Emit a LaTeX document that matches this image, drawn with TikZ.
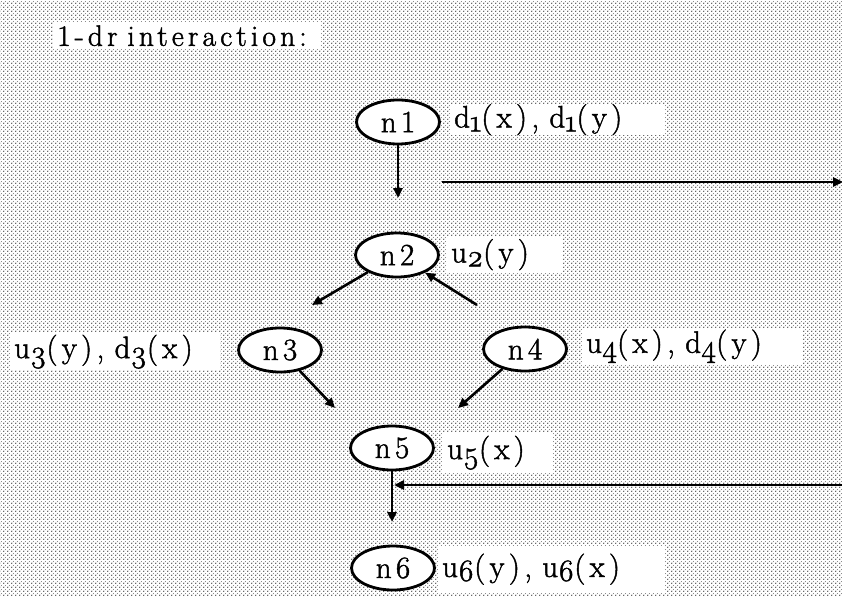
\documentclass[tikz,border=0pt]{standalone}
\usepackage{fontspec}
\setmainfont{Latin Modern Roman}[LetterSpace=14, WordSpace=1.8, FakeBold=1.5]
\usetikzlibrary{shapes.geometric,arrows.meta,patterns.meta}

% halftone screen used for the page background
\tikzdeclarepattern{
  name=halftone,
  type=uncolored,
  bounding box={(0pt,0pt) and (4pt,4pt)},
  tile size={(4pt,4pt)},
  code={
    \fill (1pt,1pt) circle (0.85pt);
    \fill (3pt,3pt) circle (0.55pt);
  }
}

% digits set low after a variable name
\newcommand{\ix}[1]{\raisebox{-0.3ex}{\addfontfeature{Numbers=OldStyle}#1}}

\tikzset{
  every node/.style={font=\fontsize{31}{35}\selectfont},
  varnode/.style={ellipse, draw, line width=2.8pt, fill=white,
    minimum width=83pt, minimum height=44pt, inner sep=0pt},
  lbl/.style={fill=white, anchor=north west, inner xsep=4pt, inner ysep=0pt,
    align=left},
  arr/.style={line width=2.6pt, -{Triangle[length=10pt,width=9pt]}},
}

\begin{document}
\begin{tikzpicture}[x=1pt, y=-1pt]
  \useasboundingbox (0,0) rectangle (842,596);
  \fill[pattern=halftone, pattern color=black!80] (0,0) rectangle (842,596);

  % heading
  \node[lbl, text width=260pt, minimum height=27pt,
        font=\fontsize{29.5}{33}\selectfont] (title) at (53,22) {1-dr interaction:};

  % variable nodes
  \node[varnode] (n1) at (398,122) {n1};
  \node[varnode] (n2) at (397,255) {n2};
  \node[varnode] (n3) at (280,350) {n3};
  \node[varnode] (n4) at (525,349) {n4};
  \node[varnode] (n5) at (392,448) {n5};
  \node[varnode] (n6) at (393,568) {n6};

  % annotations beside the nodes
  \node[lbl, text width=207pt, minimum height=30pt] (l1) at (450,104) {d\ix{1}(x), d\ix{1}(y)};
  \node[lbl, text width=108pt, minimum height=35pt] (l2) at (447,237) {u\ix{2}(y)};
  \node[lbl, text width=202pt, minimum height=37pt] (l3) at (10,333) {u\ix{3}(y), d\ix{3}(x)};
  \node[lbl, text width=212pt, minimum height=36pt] (l4) at (582,328) {u\ix{4}(x), d\ix{4}(y)};
  \node[lbl, text width=102pt, minimum height=41pt] (l5) at (443,432) {u\ix{5}(x)};
  \node[lbl, text width=219pt, minimum height=46pt] (l6) at (438,546) {u\ix{6}(y), u\ix{6}(x)};

  % free ends of the connectors
  \coordinate (t1) at (398,198);
  \coordinate (h1a) at (442,182);
  \coordinate (h1b) at (843,182);
  \coordinate (t2) at (312,305);
  \coordinate (s2) at (477,305);
  \coordinate (t3) at (335,408);
  \coordinate (t4) at (458,408);
  \coordinate (t5) at (392,522);
  \coordinate (h2a) at (846,485);
  \coordinate (h2b) at (394,485);

  % connectors
  \draw[arr] (n1) -- (t1);
  \draw[arr] (h1a) -- (h1b);
  \draw[arr] (n2) -- (t2);
  \draw[arr] (s2) -- (n2);
  \draw[arr] (n3) -- (t3);
  \draw[arr] (n4) -- (t4);
  \draw[arr] (n5) -- (t5);
  \draw[arr] (h2a) -- (h2b);
\end{tikzpicture}
\end{document}
